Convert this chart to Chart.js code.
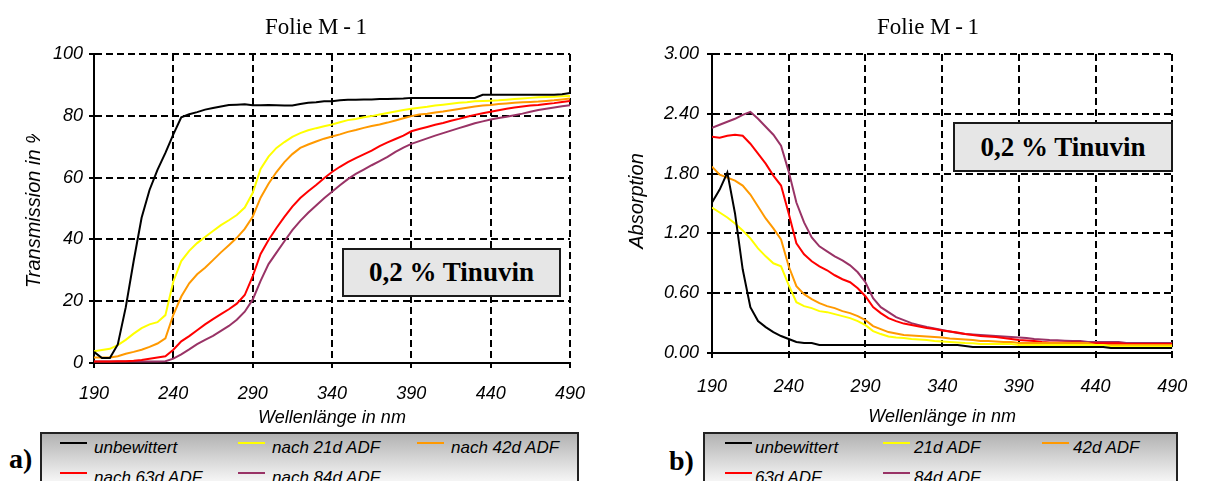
<!DOCTYPE html>
<html>
<head>
<meta charset="utf-8">
<script src="https://cdn.jsdelivr.net/npm/chart.js@4.4.1/dist/chart.umd.min.js"></script>
<style>
  body { margin: 0; background: #fff; width: 1205px; height: 481px; overflow: hidden; position: relative; }
  canvas { position: absolute; top: 0; }
  .note { position: absolute; box-sizing: border-box; border: 2px solid #1a1a1a; background: #e6e6e6;
          font: bold 27px "Liberation Serif", "Times New Roman", serif; color: #000;
          display: flex; align-items: center; justify-content: center; }
  .legend { position: absolute; top: 432px; height: 60px; box-sizing: border-box; border: 2px solid #222;
            background: linear-gradient(#b2b2b2, #f4f4f4 46px); }
  .swatch { position: absolute; height: 2px; width: 27px; }
  .entry { position: absolute; font: italic 17px "Liberation Sans", Arial, sans-serif; line-height: 20px; white-space: nowrap; color: #000; }
  .tag { position: absolute; font: bold 28px "Liberation Serif", "Times New Roman", serif; line-height: 30px; color: #000; }
</style>
</head>
<body>
<canvas id="chartA" width="600" height="432" style="left:0"></canvas>
<canvas id="chartB" width="605" height="432" style="left:600px"></canvas>
<div class="note" style="left:342px; top:248px; width:219px; height:49px">0,2 % Tinuvin</div>
<div class="note" style="left:953px; top:122px; width:220px; height:50px">0,2 % Tinuvin</div>
<div class="legend" style="left:40px; width:539px"></div>
<div class="legend" style="left:703px; width:475px"></div>
<div class="tag" style="left:9px; top:444px">a)</div>
<div class="tag" style="left:669px; top:446px">b)</div>

<script>
// wavelength grid in nm
const wavelengths = [190,195,200,205,210,215,220,225,230,235,
  240,245,250,255,260,265,270,275,280,285,
  290,295,300,305,310,315,320,325,330,335,
  340,345,350,355,360,365,370,375,380,385,
  390,395,400,405,410,415,420,425,430,435,
  440,445,450,455,460,465,470,475,480,485,490];

const seriesColors = ['#000000', '#ffff00', '#ff9900', '#ff0000', '#993366'];
const namesA = ['unbewittert', 'nach 21d ADF', 'nach 42d ADF', 'nach 63d ADF', 'nach 84d ADF'];
const namesB = ['unbewittert', '21d ADF', '42d ADF', '63d ADF', '84d ADF'];

// transmission in %
const transUnbew = [3.6,1.6,1.6,6,18,33,47,56,62.5,68,
  74,79.5,80.5,81.2,82,82.5,83,83.5,83.6,83.7,
  83.4,83.4,83.5,83.4,83.3,83.3,83.8,84.2,84.4,84.7,
  84.7,85,85.2,85.2,85.3,85.3,85.4,85.4,85.5,85.6,
  85.8,85.8,85.8,85.8,85.8,85.8,85.8,85.8,85.8,86.8,
  86.8,86.8,86.8,86.8,86.8,86.8,86.8,86.8,86.8,87,87.4];
const trans21 = [3.8,4.2,4.6,5.8,7.5,9.5,11.3,12.5,13.2,15.5,
  26.4,33,36.3,38.8,40.8,42.7,44.6,46.2,47.9,50.3,
  55,62.8,66.8,69.6,71.5,73.2,74.4,75.3,76,76.6,
  77.2,77.9,78.6,79,79.5,79.9,80.4,80.9,81.4,81.9,
  82.3,82.6,82.9,83.3,83.6,83.9,84.2,84.4,84.7,84.8,
  84.9,85,85.2,85.4,85.6,85.8,86,86.1,86.2,86.3,86.4];
const trans42 = [1.8,1.8,1.8,2.2,3,3.6,4.3,5.2,6.3,8,
  15.6,21.5,25.8,28.7,30.8,33.3,35.8,38.1,40.5,43.4,
  47.3,53.5,58,61.8,65,67.6,69.6,70.7,71.7,72.6,
  73.3,74,74.8,75.4,76.1,76.7,77.2,77.8,78.5,79.2,
  79.9,80.4,80.7,81.1,81.4,81.8,82.2,82.6,83,83.3,
  83.5,83.8,84,84.2,84.4,84.5,84.6,84.8,85,85.3,85.6];
const trans63 = [0.5,0.5,0.5,0.6,0.6,0.7,1,1.4,1.8,2.2,
  4.3,7,8.7,10.6,12.5,14.2,15.8,17.4,19.2,22,
  28,35.3,39.8,43.7,47.3,50.6,53.4,55.6,57.6,59.8,
  61.8,63.5,65,66.3,67.5,68.7,70.2,71.4,72.5,73.6,
  75,75.7,76.4,77.1,77.7,78.4,79,79.7,80.3,80.8,
  81.3,81.8,82.3,82.7,83,83.3,83.5,83.8,84.1,84.5,84.8];
const trans84 = [0.5,0.5,0.5,0.5,0.5,0.5,0.5,0.5,0.5,0.6,
  1.4,2.8,4.4,6.1,7.5,8.8,10.4,12,14,16.6,
  20.5,26.6,32,35.7,39.4,43,46,48.6,51,53.3,
  55.4,57.5,59.5,61.2,62.6,64,65.3,66.7,68.3,69.7,
  70.9,71.8,72.7,73.6,74.4,75.2,76,76.8,77.6,78.2,
  78.8,79.3,79.7,80.2,80.7,81.3,81.9,82.3,82.7,83.1,83.4];

// absorption
const absUnbew = [1.51,1.64,1.81,1.40,0.84,0.46,0.32,0.26,0.21,0.17,
  0.14,0.11,0.10,0.10,0.08,0.08,0.08,0.08,0.08,0.08,
  0.08,0.08,0.08,0.08,0.08,0.08,0.08,0.08,0.08,0.08,
  0.08,0.08,0.08,0.07,0.06,0.06,0.06,0.06,0.06,0.06,
  0.06,0.06,0.06,0.06,0.06,0.06,0.06,0.06,0.06,0.06,
  0.06,0.06,0.05,0.05,0.05,0.05,0.05,0.05,0.05,0.05,0.05];
const abs21 = [1.46,1.41,1.36,1.30,1.23,1.15,1.05,0.97,0.90,0.87,
  0.68,0.51,0.47,0.45,0.42,0.41,0.39,0.37,0.35,0.32,
  0.28,0.22,0.19,0.165,0.155,0.15,0.14,0.135,0.13,0.12,
  0.115,0.11,0.105,0.10,0.097,0.09,0.09,0.09,0.09,0.09,
  0.08,0.08,0.08,0.08,0.08,0.08,0.08,0.08,0.08,0.08,
  0.08,0.08,0.065,0.065,0.065,0.065,0.065,0.065,0.065,0.065,0.065];
const abs42 = [1.87,1.79,1.76,1.73,1.68,1.59,1.47,1.35,1.25,1.14,
  0.87,0.67,0.59,0.54,0.50,0.47,0.45,0.42,0.40,0.37,
  0.33,0.27,0.24,0.21,0.195,0.18,0.175,0.17,0.165,0.16,
  0.155,0.145,0.14,0.135,0.13,0.12,0.12,0.115,0.11,0.11,
  0.10,0.10,0.10,0.10,0.10,0.10,0.10,0.10,0.10,0.10,
  0.08,0.08,0.08,0.08,0.08,0.08,0.08,0.08,0.08,0.08,0.08];
const abs63 = [2.17,2.16,2.18,2.19,2.18,2.10,2.00,1.90,1.78,1.68,
  1.40,1.10,0.99,0.92,0.87,0.83,0.78,0.74,0.71,0.65,
  0.57,0.46,0.40,0.35,0.32,0.295,0.28,0.265,0.25,0.24,
  0.225,0.215,0.205,0.19,0.18,0.17,0.165,0.16,0.15,0.14,
  0.13,0.125,0.12,0.11,0.105,0.105,0.105,0.105,0.105,0.097,
  0.097,0.097,0.097,0.097,0.09,0.09,0.09,0.09,0.09,0.09,0.09];
const abs84 = [2.26,2.29,2.32,2.35,2.39,2.42,2.35,2.27,2.19,2.08,
  1.82,1.51,1.31,1.16,1.07,1.02,0.97,0.93,0.88,0.81,
  0.71,0.55,0.46,0.41,0.36,0.33,0.30,0.28,0.26,0.245,
  0.23,0.215,0.20,0.19,0.185,0.18,0.175,0.17,0.165,0.16,
  0.155,0.15,0.14,0.135,0.13,0.127,0.124,0.12,0.12,0.11,
  0.11,0.11,0.11,0.11,0.10,0.10,0.10,0.10,0.10,0.10,0.10];

const sansFont = '"Liberation Sans", Arial, sans-serif';
const serifFont = '"Liberation Serif", "Times New Roman", serif';
const tickFont = { family: sansFont, size: 18, style: 'italic' };

// chart title and rotated y caption, drawn by hand so they can sit off-centre
const captions = {
  id: 'captions',
  afterDraw(chart, args, opts) {
    const ctx = chart.ctx;
    ctx.save();
    ctx.font = '23px ' + serifFont;
    ctx.fillStyle = '#000';
    ctx.textAlign = 'center';
    ctx.textBaseline = 'alphabetic';
    ctx.fillText(opts.title, opts.titleX, 34);

    ctx.beginPath();
    ctx.rect(0, opts.clipTop, opts.x + 20, chart.height);
    ctx.clip();
    ctx.translate(opts.x, opts.y);
    ctx.rotate(-Math.PI / 2);
    ctx.font = 'italic 20px ' + sansFont;
    ctx.textAlign = opts.align;
    ctx.textBaseline = 'middle';
    ctx.fillText(opts.text, 0, 0);
    ctx.restore();
  }
};

function buildDatasets(names, series) {
  return names.map((name, i) => ({
    label: name,
    data: wavelengths.map((x, j) => ({ x: x, y: series[i][j] })),
    borderColor: seriesColors[i],
    backgroundColor: seriesColors[i],
    borderWidth: 2,
    pointRadius: 0,
    tension: 0
  }));
}

function makeChart(id, cfg) {
  return new Chart(document.getElementById(id), {
    type: 'line',
    data: { datasets: buildDatasets(cfg.names, cfg.series) },
    options: {
      responsive: false,
      animation: false,
      events: [],
      layout: { padding: { left: 0, right: cfg.padRight, top: 54, bottom: 0 } },
      plugins: {
        legend: { display: false },
        tooltip: { enabled: false },
        title: { display: false },
        captions: cfg.caption
      },
      scales: {
        x: {
          type: 'linear', min: 190, max: 490,
          ticks: { stepSize: 50, padding: cfg.xTickPad, color: '#000', font: tickFont, maxRotation: 0, autoSkip: false },
          grid: { color: '#000', lineWidth: 2, tickLength: 5, tickColor: '#000', tickWidth: 2 },
          border: { color: '#000', width: 2, dash: [7, 4] },
          title: { display: true, text: 'Wellenlänge in nm', color: '#000', font: tickFont, padding: { top: 0, bottom: cfg.xTitlePad } },
          afterFit: s => { s.height = cfg.xHeight; }
        },
        y: {
          min: 0, max: cfg.yMax,
          ticks: { stepSize: cfg.yStep, padding: cfg.yTickPad, color: '#000', font: tickFont, callback: cfg.yFormat },
          grid: { color: '#000', lineWidth: 2, tickLength: 5, tickColor: '#000', tickWidth: 2 },
          border: { color: '#000', width: 2, dash: [7, 4] },
          afterFit: s => { s.width = cfg.yWidth; }
        }
      }
    },
    plugins: [captions]
  });
}

makeChart('chartA', {
  names: namesA,
  series: [transUnbew, trans21, trans42, trans63, trans84],
  padRight: 30, yWidth: 94, xHeight: 69,
  xTickPad: 14.7, xTitlePad: 3.2, yTickPad: 6,
  yMax: 100, yStep: 20, yFormat: v => String(v),
  caption: { title: 'Folie M\u2009-\u20091', titleX: 316,
             text: 'Transmission in %', x: 34, y: 288, align: 'left', clipTop: 134 }
});

makeChart('chartB', {
  names: namesB,
  series: [absUnbew, abs21, abs42, abs63, abs84],
  padRight: 25, yWidth: 112, xHeight: 79,
  xTickPad: 17.7, xTitlePad: 4.2, yTickPad: 8,
  yMax: 3, yStep: 0.6, yFormat: v => v.toFixed(2),
  caption: { title: 'Folie M\u2009-\u20091', titleX: 328,
             text: 'Absorption', x: 37, y: 201, align: 'center', clipTop: 0 }
});

// legend boxes under the charts (two rows, three columns)
function buildLegend(names, lineXs, textXs) {
  const rows = [443, 473];
  names.forEach((name, i) => {
    const col = i % 3, row = Math.floor(i / 3);
    const sw = document.createElement('div');
    sw.className = 'swatch';
    sw.style.left = lineXs[col] + 'px';
    sw.style.top = (rows[row] - 1) + 'px';
    sw.style.background = seriesColors[i];
    document.body.appendChild(sw);
    const tx = document.createElement('div');
    tx.className = 'entry';
    tx.style.left = textXs[col] + 'px';
    tx.style.top = (rows[row] - 5) + 'px';
    tx.textContent = name;
    document.body.appendChild(tx);
  });
}
buildLegend(namesA, [60, 238, 417], [94, 272, 451]);
buildLegend(namesB, [725, 883, 1042], [755, 914, 1073]);
</script>
</body>
</html>
